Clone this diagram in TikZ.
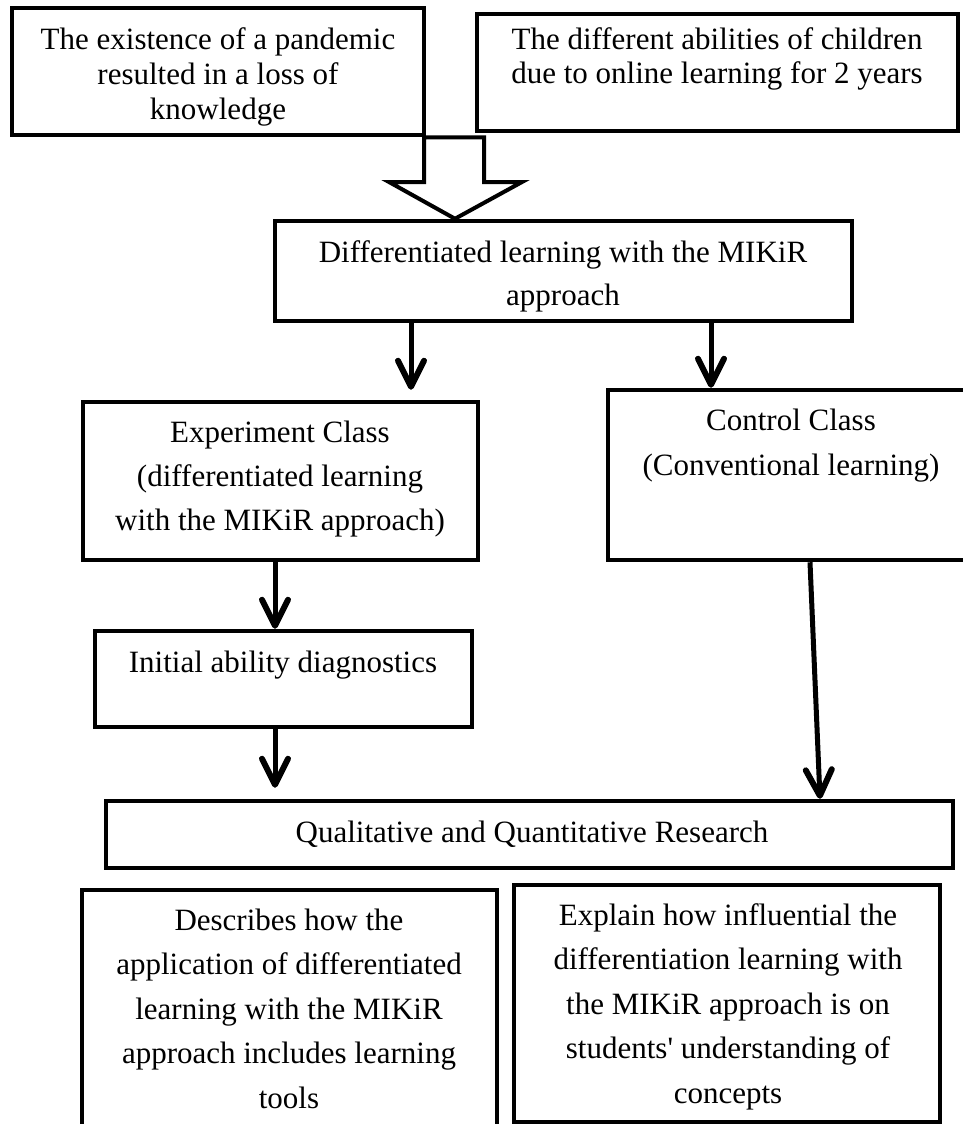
\documentclass[tikz,border=0pt]{standalone}
\usepackage{fontspec}
\setmainfont{Liberation Serif}
\usetikzlibrary{arrows.meta,calc}
\tikzset{
  box/.style={draw=black, line width=4.5pt, rectangle, inner sep=0pt},
  txt/.style={align=center, anchor=base, inner sep=0pt, font=\fontsize{31}{#1}\selectfont},
  txt/.default=44,
  arr/.style={line width=5pt, -{Straight Barb[length=26pt,width=26pt,line width=6pt,round]}},
  big/.style={draw=black, line width=4pt, fill=white, line join=miter}
}
\begin{document}
\begin{tikzpicture}[x=1pt,y=-1pt]
\useasboundingbox (0,0) rectangle (963,1124);
\clip (0,0) rectangle (963,1124);
\fill[white] (0,0) rectangle (963,1124);
% boxes
\node[box, minimum width=412pt, minimum height=127pt] (A) at (218,71.5) {};
\node[box, minimum width=481pt, minimum height=117pt] (B) at (717.5,72.5) {};
\node[box, minimum width=577pt, minimum height=100pt] (C) at (563.5,271) {};
\node[box, minimum width=395pt, minimum height=158pt] (D) at (280.5,481) {};
\node[box, minimum width=372pt, minimum height=170pt] (E) at (794,475) {};
\node[box, minimum width=377pt, minimum height=96pt] (F) at (283.5,679) {};
\node[box, minimum width=847pt, minimum height=67pt] (G) at (529.5,834.5) {};
\node[box, minimum width=415pt, minimum height=270pt] (H) at (289.5,1025) {};
\node[box, minimum width=426pt, minimum height=237pt] (I) at (727,1003.5) {};
% texts (anchor base = baseline of the last line)
\node[txt=35] (At) at (218,119) {The existence of a pandemic\\resulted in a loss of\\knowledge};
\node[txt=35] (Bt) at (717,84) {The different abilities of children\\due to online learning for 2 years};
\node[txt=43] (Ct) at (563,305) {Differentiated learning with the MIKiR\\approach};
\node[txt=44] (Dt) at (280,530) {Experiment Class\\(differentiated learning\\with the MIKiR approach)};
\node[txt=45] (Et) at (791,475) {Control Class\\(Conventional learning)};
\node[txt] (Ft) at (283,672) {Initial ability diagnostics};
\node[txt] (Gt) at (532,842) {Qualitative and Quantitative Research};
\node[txt=44.5] (Ht) at (289,1108) {Describes how the\\application of differentiated\\learning with the MIKiR\\approach includes learning\\tools};
\node[txt=44.5] (It) at (728,1103) {Explain how influential the\\differentiation learning with\\the MIKiR approach is on\\students\textquotesingle{} understanding of\\concepts};
% big hollow arrow from A to C
\draw[big] (A.south -| 424,0) -- (A.south -| 484,0) -- (484,182) -- (522,182)
  -- (C.north -| 455,0) -- (389,182) -- (424,182) -- cycle;
% arrows
\draw[arr, shorten >=10pt] (C.south -| 411,0) -- (D.north -| 411,0);
\draw[arr] (C.south -| 711,0) -- (E.north -| 711,0);
\draw[arr] (D.south -| 275,0) -- (F.north -| 275,0);
\draw[arr, shorten >=11pt] (F.south -| 275,0) -- (G.north -| 275,0);
\draw[arr] (E.south -| 810,0) -- (G.north -| 820,0);
\end{tikzpicture}
\end{document}
